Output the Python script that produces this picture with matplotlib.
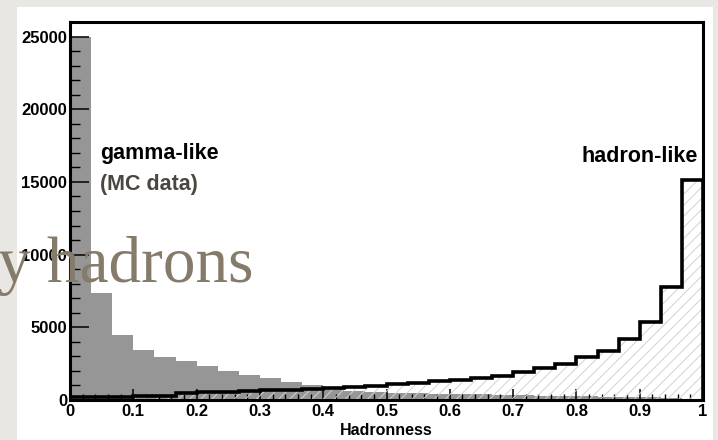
import numpy as np
import matplotlib
matplotlib.use("Agg")
import matplotlib.pyplot as plt
from matplotlib.patches import Rectangle
from matplotlib.ticker import MultipleLocator

# hadronness histograms, 30 bins from 0 to 1
bin_edges = np.linspace(0, 1, 31)

gamma_counts = [25000, 7350, 4450, 3450, 2950, 2700, 2350, 2000, 1750, 1500,
                1250, 1050, 800, 620, 560, 500, 450, 420, 400, 380,
                360, 330, 300, 280, 260, 240, 220, 200, 150, 80]

hadron_counts = [190, 190, 200, 280, 290, 450, 560, 580, 640, 700,
                 720, 740, 800, 870, 960, 1080, 1190, 1310, 1390, 1520,
                 1680, 1950, 2230, 2480, 2940, 3400, 4200, 5350, 7760, 15100]

x_ticks = [0, 0.1, 0.2, 0.3, 0.4, 0.5, 0.6, 0.7, 0.8, 0.9, 1]
x_ticklabels = ["0", "0.1", "0.2", "0.3", "0.4", "0.5", "0.6", "0.7", "0.8", "0.9", "1"]
y_ticks = [0, 5000, 10000, 15000, 20000, 25000]

W, H = 718, 440
plt.rcParams["hatch.linewidth"] = 0.7
sans = "Liberation Sans"

fig = plt.figure(figsize=(W / 100, H / 100), dpi=100, facecolor="#e9e7e4")
# white slide panel behind the plot
fig.add_artist(Rectangle((17 / W, 0), (713 - 17) / W, (440 - 7) / H,
                         transform=fig.transFigure, facecolor="white",
                         edgecolor="none", zorder=-10))

ax = fig.add_axes([70 / W, 1 - 400 / H, (703 - 70) / W, (400 - 22) / H])
ax.set_facecolor("white")

ax.stairs(gamma_counts, bin_edges, fill=True, color="#969696", zorder=1)
ax.stairs(hadron_counts, bin_edges, fill=True, facecolor="none",
          edgecolor="#d2d2d2", hatch="///", linewidth=0, zorder=2)
ax.stairs(hadron_counts, bin_edges, color="black", linewidth=2.6, zorder=3)

ax.set_xlim(0, 1)
ax.set_ylim(0, 26000)

ax.set_xticks(x_ticks)
ax.set_xticklabels(x_ticklabels)
ax.set_yticks(y_ticks)
ax.xaxis.set_minor_locator(MultipleLocator(0.02))
ax.yaxis.set_minor_locator(MultipleLocator(1000))

ax.tick_params(axis="both", which="both", direction="in", top=False, right=False)
ax.tick_params(axis="x", which="major", length=8, width=1.1, pad=3)
ax.tick_params(axis="x", which="minor", length=4, width=1.0)
ax.tick_params(axis="y", which="major", length=14, width=1.1, pad=2)
ax.tick_params(axis="y", which="minor", length=7.5, width=1.0)
for lab in ax.get_xticklabels() + ax.get_yticklabels():
    lab.set_fontfamily(sans)
    lab.set_fontweight("bold")
    lab.set_fontsize(12)

for sp in ax.spines.values():
    sp.set_linewidth(2.2)
    sp.set_zorder(4)

ax.set_xlabel("Hadronness", fontfamily=sans, fontweight="bold",
              fontsize=11.5, labelpad=3)

fig.text(100 / W, 1 - 159 / H, "gamma-like", fontfamily=sans,
         fontweight="bold", fontsize=15.5, color="black", va="baseline")
fig.text(100 / W, 1 - 190 / H, "(MC data)", fontfamily=sans,
         fontweight="bold", fontsize=15.5, color="#4b4640", va="baseline")
fig.text(698 / W, 1 - 162 / H, "hadron-like", fontfamily=sans,
         fontweight="bold", fontsize=15.5, color="black", va="baseline",
         ha="right")

# slide title text running over the plot
fig.text(254 / W, 1 - 282 / H, "y hadrons", fontfamily="Liberation Serif",
         fontsize=47, color="#857b6b", va="baseline", ha="right", zorder=20)

fig.savefig("out.png", dpi=100, facecolor=fig.get_facecolor())
